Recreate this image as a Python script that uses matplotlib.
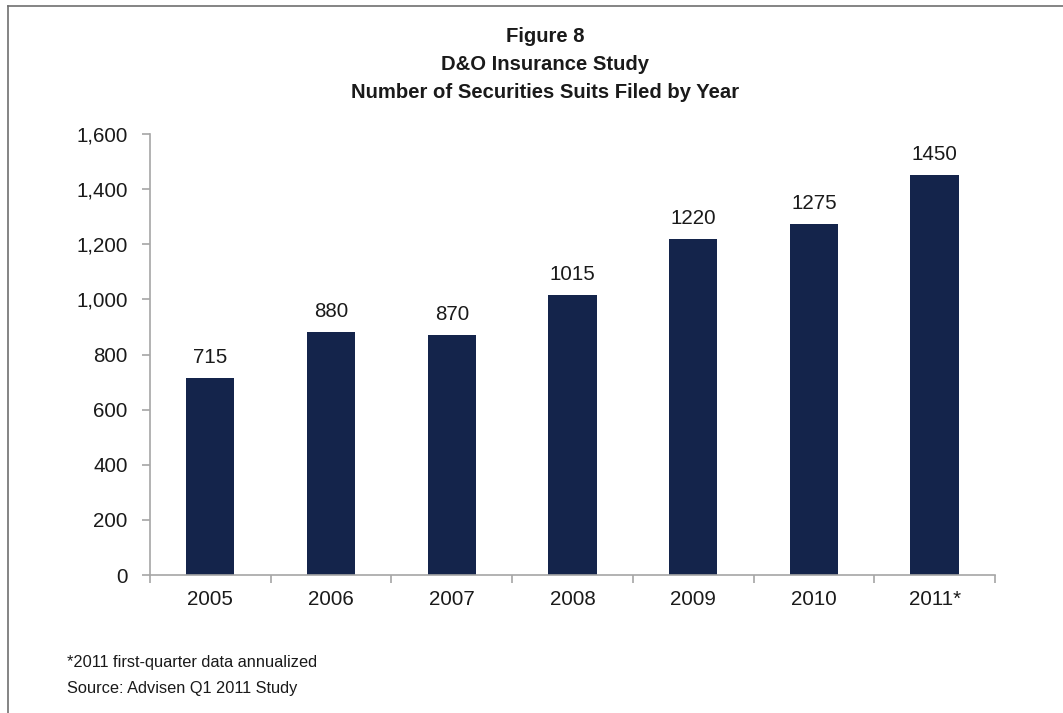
import numpy as np
import matplotlib
matplotlib.use("Agg")
import matplotlib.pyplot as plt
from matplotlib.lines import Line2D
from matplotlib.ticker import FuncFormatter, FixedLocator

plt.rcParams["font.family"] = ["Liberation Sans", "DejaVu Sans"]

years = ["2005", "2006", "2007", "2008", "2009", "2010", "2011*"]
suits = [715, 880, 870, 1015, 1220, 1275, 1450]
y_ticks = [0, 200, 400, 600, 800, 1000, 1200, 1400, 1600]

BAR = "#14244b"
AXIS = "#a6a6a6"
TXT = "#1a1a1a"

fig = plt.figure(figsize=(10.63, 7.13), dpi=100)
ax = fig.add_axes([0.1411, 0.1935, 0.7949, 0.6185])

x = np.arange(len(years))
ax.bar(x, suits, width=0.4, color=BAR, zorder=2)
for xi, v in zip(x, suits):
    ax.annotate(f"{v}", (xi, v), xytext=(0, 8), textcoords="offset points",
                ha="center", va="bottom", fontsize=14.8, color=TXT)

ax.set_xlim(-0.5, len(years) - 0.5)
ax.set_ylim(0, 1600)
ax.set_xticks(x)
ax.set_xticklabels(years)
ax.xaxis.set_minor_locator(FixedLocator(np.arange(-0.5, len(years), 1.0)))
ax.set_yticks(y_ticks)
ax.yaxis.set_major_formatter(FuncFormatter(lambda v, p: f"{int(v):,}"))

for s in ["top", "right"]:
    ax.spines[s].set_visible(False)
for s in ["left", "bottom"]:
    ax.spines[s].set_color(AXIS)
    ax.spines[s].set_linewidth(1.2)
ax.tick_params(axis="x", which="major", length=0, pad=11, labelsize=14.8, labelcolor=TXT)
ax.tick_params(axis="x", which="minor", length=6, width=1.2, color=AXIS, direction="out")
ax.tick_params(axis="y", length=6, width=1.2, color=AXIS, pad=10, labelsize=14.8, labelcolor=TXT)

# titles
title_lines = ["Figure 8", "D&O Insurance Study", "Number of Securities Suits Filed by Year"]
for yy, t in zip([37, 65, 92], title_lines):
    fig.text(0.513, 1 - yy / 713, t, ha="center", va="center",
             fontsize=14.6, fontweight="bold", color=TXT)

# notes
fig.text(67 / 1063, 1 - 662 / 713, "*2011 first-quarter data annualized", ha="left", va="center",
         fontsize=11.8, color=TXT)
fig.text(67 / 1063, 1 - 688 / 713, "Source: Advisen Q1 2011 Study", ha="left", va="center",
         fontsize=11.8, color=TXT)

# frame (top and left edges of the cropped chart box)
fig.add_artist(Line2D([8 / 1063, 8 / 1063], [0, 1 - 6 / 713], transform=fig.transFigure,
                      color="#707070", lw=1.2))
fig.add_artist(Line2D([8 / 1063, 1], [1 - 6 / 713, 1 - 6 / 713], transform=fig.transFigure,
                      color="#707070", lw=1.2))

fig.savefig("out.png", dpi=100)
